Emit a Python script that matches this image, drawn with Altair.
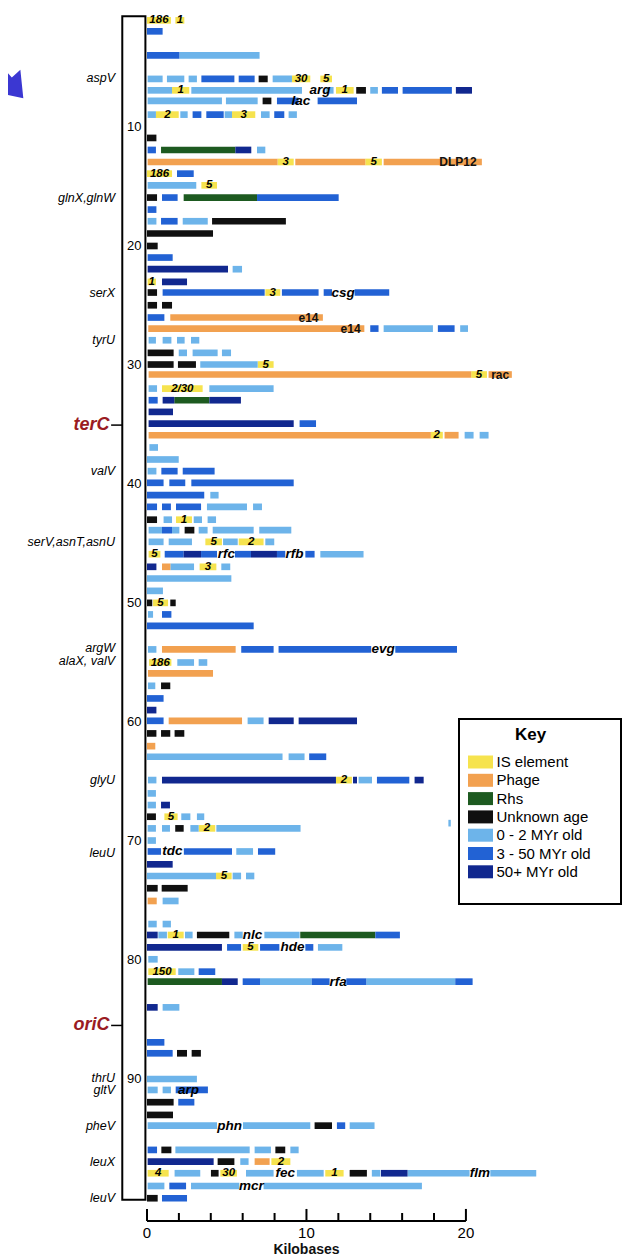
import altair as alt
import pandas as pd

# ---------------- legend categories ----------------
key_labels = ["IS element", "Phage", "Rhs", "Unknown age",
              "0 - 2 MYr old", "3 - 50 MYr old", "50+ MYr old"]
key_colors = ["#f6e34e", "#f2a150", "#1d5a20", "#101010",
              "#6db4ea", "#2262d4", "#11288f"]

# ---------------- segments: (map minute, start kb, end kb) ----------------
is_segments = [  # (minute, start, end, label)
    (1.04, 0.0, 1.5, "186"), (1.04, 1.78, 2.34, "1"),
    (5.96, 9.09, 10.24, "30"), (5.96, 10.87, 11.6, "5"),
    (6.92, 1.57, 2.65, "1"), (6.92, 11.85, 12.96, "1"),
    (8.96, 0.56, 1.99, "2"), (8.96, 5.33, 6.79, "3"),
    (12.94, 8.19, 9.2, "3"), (12.94, 13.69, 14.73, "5"),
    (13.92, 0.0, 1.57, "186"),
    (14.9, 3.41, 4.39, "5"),
    (23.02, 0.04, 0.56, "1"),
    (23.91, 7.42, 8.36, "3"),
    (29.96, 6.94, 7.94, "5"),
    (30.8, 20.33, 21.32, "5"),
    (31.98, 0.94, 3.49, "2/30"),
    (35.9, 17.8, 18.55, "2"),
    (43.0, 1.82, 2.82, "1"),
    (44.86, 3.66, 4.7, "5"), (44.86, 5.75, 7.31, "2"),
    (45.9, 0.1, 0.84, "5"),
    (46.96, 3.3, 4.35, "3"),
    (49.99, 0.38, 1.32, "5"),
    (55.0, 0.13, 1.53, "186"),
    (64.88, 11.85, 12.85, "2"),
    (67.96, 1.09, 1.92, "5"),
    (68.94, 3.24, 4.28, "2"),
    (72.94, 4.33, 5.31, "5"),
    (77.9, 1.3, 2.3, "1"),
    (78.94, 6.0, 6.98, "5"),
    (80.98, 0.08, 1.8, "150"),
    (96.94, 7.8, 8.99, "2"),
    (97.92, 0.04, 1.36, "4"), (97.92, 4.6, 5.64, "30"), (97.92, 11.18, 12.33, "1"),
]

phage_segments = [
    (12.94, 0.04, 8.19), (12.94, 9.3, 13.69), (12.94, 14.84, 21.0),
    (26.01, 1.46, 11.03),
    (26.94, 0.08, 13.63),
    (30.8, 0.1, 20.33), (30.8, 21.42, 22.88),
    (35.9, 0.1, 17.8), (35.9, 18.66, 19.54),
    (46.96, 0.94, 1.48),
    (53.9, 0.94, 5.56),
    (55.92, 0.06, 4.14),
    (59.9, 1.36, 5.96),
    (62.03, 0.0, 0.52),
    (75.04, 0.04, 0.61),
    (96.94, 6.75, 7.69),
]

rhs_segments = [
    (11.93, 0.88, 5.54), (15.93, 2.3, 6.9), (32.96, 1.71, 3.91),
    (77.9, 9.61, 14.32), (81.82, 0.04, 4.7),
]

unknown_segments = [
    (5.96, 7.0, 7.57), (6.92, 13.12, 13.73), (7.81, 7.25, 7.8),
    (10.92, 0.0, 0.59),
    (15.93, 0.0, 0.63),
    (17.92, 4.08, 8.71),
    (18.95, 0.0, 4.14),
    (20.0, 0.0, 0.67),
    (23.91, 0.04, 0.63),
    (24.98, 0.04, 0.63), (24.98, 0.94, 1.57),
    (28.98, 0.04, 1.67),
    (29.96, 0.04, 1.67), (29.96, 1.94, 3.07),
    (43.0, 0.0, 0.63),
    (43.88, 2.36, 2.97),
    (49.99, 0.0, 0.33), (49.99, 1.46, 1.8),
    (56.96, 0.88, 1.46),
    (60.96, 0.0, 0.59), (60.96, 0.88, 1.46), (60.96, 1.73, 2.34),
    (67.96, 0.0, 0.56),
    (68.94, 1.77, 2.3),
    (73.97, 0.0, 0.67), (73.97, 0.92, 2.55),
    (77.9, 3.13, 5.16),
    (87.84, 1.88, 2.51), (87.84, 2.8, 3.38),
    (91.95, 0.0, 1.67),
    (93.02, 0.0, 1.63),
    (93.92, 10.51, 11.6),
    (95.96, 0.9, 1.53), (95.96, 8.05, 8.67),
    (96.94, 4.43, 5.48),
    (97.92, 4.01, 4.49), (97.92, 12.71, 13.79),
    (100.02, 0.0, 0.67),
]

young_segments = [  # 0 - 2 MYr old
    (3.98, 2.03, 7.06),
    (5.96, 0.04, 0.98), (5.96, 1.25, 2.34), (5.96, 2.61, 3.13), (5.96, 7.88, 9.09),
    (6.92, 0.04, 1.57), (6.92, 2.78, 9.72), (6.92, 11.2, 11.7), (6.92, 14.0, 14.48),
    (7.81, 0.04, 4.7), (7.81, 4.95, 6.94),
    (8.96, 0.04, 0.56), (8.96, 2.09, 2.55), (8.96, 4.87, 5.33), (8.96, 7.15, 7.69), (8.96, 8.88, 9.4),
    (11.93, 6.9, 7.42),
    (14.9, 0.04, 3.09),
    (17.92, 0.04, 0.59), (17.92, 2.24, 3.81),
    (21.95, 5.37, 5.96),
    (26.94, 14.84, 17.93), (26.94, 19.64, 20.13),
    (27.92, 0.1, 0.56), (27.92, 0.98, 1.53), (27.92, 1.88, 2.36), (27.92, 2.76, 3.28),
    (28.98, 1.99, 2.51), (28.98, 2.86, 4.43), (28.98, 4.7, 5.27),
    (29.96, 3.34, 6.94),
    (31.98, 0.1, 0.63), (31.98, 3.91, 7.94),
    (35.9, 19.92, 20.48), (35.9, 20.86, 21.42),
    (36.93, 0.15, 0.69),
    (37.94, 0.0, 1.99),
    (38.92, 0.04, 0.59),
    (40.94, 3.97, 4.49),
    (41.92, 3.76, 6.27), (41.92, 6.65, 7.21),
    (43.0, 1.04, 1.57), (43.0, 2.93, 3.45), (43.0, 3.8, 4.33),
    (43.88, 0.1, 0.94), (43.88, 1.57, 2.03), (43.88, 3.24, 3.8), (43.88, 4.12, 6.69), (43.88, 7.04, 9.05),
    (44.86, 0.1, 1.04), (44.86, 1.36, 2.82), (44.86, 4.77, 5.69), (44.86, 7.42, 7.98),
    (45.9, 10.87, 13.58),
    (46.96, 1.48, 2.95), (46.96, 4.66, 5.22),
    (47.94, 0.0, 5.29),
    (48.98, 0.0, 1.0),
    (50.96, 0.06, 0.38),
    (53.9, 0.06, 0.59),
    (55.0, 1.9, 2.95), (55.0, 3.24, 3.78),
    (56.96, 0.06, 0.52),
    (59.9, 6.31, 7.31),
    (62.92, 0.0, 8.5), (62.92, 8.88, 9.88),
    (64.88, 0.06, 0.59), (64.88, 13.27, 14.11),
    (66.0, 0.04, 0.56),
    (66.98, 0.04, 0.56),
    (67.96, 2.15, 2.72), (67.96, 3.13, 3.59),
    (68.94, 0.04, 0.56), (68.94, 0.94, 1.44), (68.94, 2.72, 3.24), (68.94, 4.35, 9.63), (68.5, 18.9, 19.05),
    (69.96, 0.04, 0.56),
    (70.88, 5.6, 6.65),
    (72.94, 0.0, 4.33), (72.94, 5.37, 5.9), (72.94, 6.21, 6.73),
    (75.04, 0.98, 1.98),
    (76.98, 0.08, 0.61), (76.98, 0.98, 1.5),
    (77.9, 0.71, 1.25), (77.9, 2.38, 2.86), (77.9, 5.48, 6.0), (77.9, 7.36, 9.57),
    (78.94, 10.72, 12.25),
    (79.94, 0.08, 0.67),
    (80.98, 1.96, 2.97),
    (81.82, 7.09, 10.33), (81.82, 13.75, 19.33),
    (83.98, 0.98, 2.03),
    (90.0, 0.0, 3.13),
    (90.92, 0.04, 0.67), (90.92, 0.98, 1.5),
    (93.92, 0.04, 4.39), (93.92, 6.02, 10.24), (93.92, 12.71, 14.27),
    (95.96, 1.78, 6.44), (95.96, 6.75, 7.77), (95.96, 8.99, 9.51),
    (96.94, 5.85, 6.37),
    (97.92, 1.73, 3.34), (97.92, 6.21, 7.94), (97.92, 9.4, 11.08), (97.92, 14.1, 14.63),
    (97.92, 16.34, 20.23), (97.92, 21.53, 24.41),
    (98.99, 0.04, 1.09), (98.99, 2.76, 5.79), (98.99, 7.31, 17.24),
]

mid_segments = [  # 3 - 50 MYr old
    (1.96, 0.0, 0.98),
    (3.98, 0.0, 2.03),
    (5.96, 3.41, 5.48), (5.96, 5.75, 6.75),
    (6.92, 14.73, 15.74), (6.92, 16.03, 19.12),
    (7.81, 8.15, 9.5), (7.81, 10.7, 13.17),
    (8.96, 2.86, 3.41), (8.96, 3.72, 4.81), (8.96, 7.98, 8.61),
    (11.93, 0.04, 0.56),
    (13.92, 1.88, 2.93),
    (15.93, 0.94, 1.92), (15.93, 6.9, 12.02),
    (16.94, 0.04, 0.59),
    (17.92, 0.88, 1.92),
    (20.97, 0.04, 1.61),
    (23.91, 0.98, 7.38), (23.91, 8.46, 10.76), (23.91, 11.08, 11.6), (23.91, 13.02, 15.19),
    (26.01, 0.04, 1.09),
    (26.94, 14.0, 14.52), (26.94, 18.24, 19.29),
    (32.96, 0.1, 0.67),
    (34.92, 9.57, 10.6),
    (38.92, 0.9, 1.92), (38.92, 2.24, 4.24),
    (39.9, 0.0, 1.04), (39.9, 1.4, 2.4), (39.9, 2.78, 9.2),
    (40.94, 0.0, 3.59),
    (41.92, 0.0, 0.63), (41.92, 0.94, 1.5), (41.92, 1.82, 3.39),
    (43.88, 0.94, 1.57),
    (45.9, 1.11, 2.3), (45.9, 3.39, 4.39), (45.9, 5.52, 6.52), (45.9, 8.15, 8.67), (45.9, 9.93, 10.51),
    (50.96, 0.94, 1.53),
    (51.92, 0.0, 6.69),
    (53.9, 5.91, 7.94), (53.9, 8.25, 14.06), (53.9, 15.57, 19.44),
    (58.02, 0.0, 1.04),
    (59.9, 0.0, 1.04),
    (62.92, 10.17, 11.24),
    (64.88, 14.42, 16.45),
    (70.88, 0.04, 0.88), (70.88, 2.31, 5.33), (70.88, 6.96, 8.04),
    (77.9, 14.32, 15.86),
    (78.94, 5.02, 5.9), (78.94, 7.09, 8.3), (78.94, 9.93, 10.43),
    (80.98, 3.24, 4.28),
    (81.82, 6.0, 7.09), (81.82, 10.33, 11.45), (81.82, 12.5, 13.75), (81.82, 19.33, 20.42),
    (86.92, 0.0, 1.09),
    (87.84, 0.0, 1.61),
    (90.92, 1.8, 3.82),
    (91.95, 1.96, 2.97),
    (93.92, 11.91, 12.43),
    (95.96, 0.04, 0.63),
    (98.99, 1.4, 2.45),
    (100.02, 0.94, 2.51),
]

old_segments = [  # 50+ MYr old
    (6.92, 19.37, 20.38),
    (11.93, 5.54, 6.54),
    (21.95, 0.04, 5.08),
    (23.02, 0.94, 2.51),
    (32.96, 0.98, 1.71), (32.96, 3.91, 5.89),
    (33.94, 0.1, 1.63),
    (34.92, 0.1, 9.2),
    (45.9, 2.3, 3.39), (45.9, 6.52, 8.15),
    (46.96, 0.0, 0.59),
    (59.0, 0.0, 0.59),
    (59.9, 7.63, 9.2), (59.9, 9.51, 13.17),
    (64.88, 0.94, 11.85), (64.88, 12.92, 13.17), (64.88, 16.78, 17.35),
    (66.98, 0.88, 1.44),
    (71.96, 0.0, 1.61),
    (77.9, 0.0, 0.67),
    (78.94, 0.0, 4.7),
    (81.82, 4.7, 5.69),
    (83.98, 0.0, 0.67),
    (96.94, 0.04, 4.18),
    (97.92, 14.67, 16.34),
]

# ---------------- text annotations ----------------
cluster_labels = [  # (minute, kb centre, name)
    (6.92, 10.85, "arg"), (7.81, 9.65, "lac"), (23.91, 12.3, "csg"),
    (45.9, 4.97, "rfc"), (45.9, 9.25, "rfb"), (53.9, 14.8, "evg"),
    (70.88, 1.59, "tdc"), (77.9, 6.62, "nlc"), (78.94, 9.13, "hde"),
    (81.82, 11.99, "rfa"), (90.92, 2.6, "arp"), (93.92, 5.18, "phn"),
    (97.92, 8.67, "fec"), (97.92, 20.88, "flm"), (98.99, 6.55, "mcr"),
]
phage_labels = [(12.94, 19.5, "DLP12"), (26.01, 10.13, "e14"),
                (26.94, 12.77, "e14"), (30.8, 22.15, "rac")]
gene_labels = [
    (5.9, "aspV"), (15.93, "glnX,glnW"), (23.91, "serX"), (27.92, "tyrU"),
    (38.92, "valV"), (44.86, "serV,asnT,asnU"), (53.75, "argW"),
    (54.85, "alaX, valV"), (64.88, "glyU"), (71.0, "leuU"), (89.9, "thrU"),
    (90.95, "gltV"), (93.92, "pheV"), (96.94, "leuX"), (100.0, "leuV"),
]
origin_labels = [(35.05, "terC"), (85.5, "oriC")]
minute_ticks = [10, 20, 30, 40, 50, 60, 70, 80, 90]
kb_ticks = [0, 2, 4, 6, 8, 10, 12, 14, 16, 18, 20]
kb_tick_labels = [0, 10, 20]

# ---------------- build tables ----------------
seg_rows = []
for kind, segs in zip(key_labels, [is_segments, phage_segments, rhs_segments,
                                   unknown_segments, young_segments,
                                   mid_segments, old_segments]):
    for s in segs:
        seg_rows.append({"row": s[0], "x0": s[1], "x1": s[2], "kind": kind})
seg_df = pd.DataFrame(seg_rows)
is_df = pd.DataFrame(is_segments, columns=["row", "x0", "x1", "label"])
cl_df = pd.DataFrame(cluster_labels, columns=["row", "x", "label"])
ph_df = pd.DataFrame(phage_labels, columns=["row", "x", "label"])
gene_df = pd.DataFrame(gene_labels, columns=["row", "label"])
ori_df = pd.DataFrame(origin_labels, columns=["row", "label"])
mt_df = pd.DataFrame({"m": minute_ticks})
kt_df = pd.DataFrame({"kb": kb_ticks})
kl_df = pd.DataFrame({"kb": kb_tick_labels})
one = pd.DataFrame({"k": [0]})

FONT = "Liberation Sans"
xs = alt.Scale(domain=[0, 29.6], nice=False, zero=False)
ys = alt.Scale(domain=[0, 100], nice=False, zero=False, reverse=True)


def X(f):
    return alt.X(f, type="quantitative", scale=xs, axis=None)


def Y(f):
    return alt.Y(f, type="quantitative", scale=ys, axis=None)


# decorative slide arrow (top-left corner)
arrow = alt.Chart(one).mark_point(
    shape="M-1,-0.2H0.15V-0.62L1,0L0.15,0.62V0.2H-1Z", filled=True,
    fill="#3b37d2", color="#3b37d2", opacity=1, size=3000, angle=48
).encode(x=alt.value(-142), y=alt.value(70))

# chromosome box
box = alt.Chart(one).transform_calculate(
    bx0="-1.55", bx1="-0.1", by0="0.7", by1="100.15"
).mark_rect(fill="white", stroke="black", strokeWidth=2).encode(
    x=X("bx0"), x2=alt.X2("bx1"), y=Y("by0"), y2=alt.Y2("by1"))

minute_text = alt.Chart(mt_df).transform_calculate(tx="-0.35").mark_text(
    align="right", baseline="middle", font=FONT, fontSize=13, color="black"
).encode(x=X("tx"), y=Y("m"), text=alt.Text("m:Q"))

segments = alt.Chart(seg_df).transform_calculate(
    ylo="datum.row - 0.28", yhi="datum.row + 0.28"
).mark_rect().encode(
    x=X("x0"), x2=alt.X2("x1"), y=Y("ylo"), y2=alt.Y2("yhi"),
    color=alt.Color("kind:N",
                    scale=alt.Scale(domain=key_labels, range=key_colors),
                    legend=alt.Legend(
                        title="Key", orient="none", legendX=323.5, legendY=719,
                        titleAnchor="middle", titleFont=FONT, titleFontSize=17,
                        titleFontWeight="bold", titleColor="black", titlePadding=8,
                        labelFont=FONT, labelFontSize=15, labelColor="black",
                        labelOffset=6, labelLimit=200,
                        symbolType="M-1.25,-0.65H1.25V0.65H-1.25Z", symbolSize=400,
                        symbolStrokeWidth=0, symbolOpacity=1, rowPadding=0.3)))

is_text = alt.Chart(is_df).transform_calculate(
    xm="(datum.x0 + datum.x1) / 2"
).mark_text(baseline="middle", font=FONT, fontSize=11.5, fontWeight="bold",
            fontStyle="italic", color="black").encode(
    x=X("xm"), y=Y("row"), text="label:N")

cl_text = alt.Chart(cl_df).mark_text(
    baseline="middle", font=FONT, fontSize=13.5, fontWeight="bold",
    fontStyle="italic", color="black").encode(x=X("x"), y=Y("row"), text="label:N")

ph_text = alt.Chart(ph_df).mark_text(
    baseline="middle", font=FONT, fontSize=12, fontWeight="bold",
    color="#111111").encode(x=X("x"), y=Y("row"), text="label:N")

gene_text = alt.Chart(gene_df).transform_calculate(gx="-2.0").mark_text(
    align="right", baseline="middle", font=FONT, fontSize=12.5,
    fontStyle="italic", color="black").encode(
    x=X("gx"), y=Y("row"), text="label:N")

ori_text = alt.Chart(ori_df).transform_calculate(ox="-2.35").mark_text(
    align="right", baseline="middle", font=FONT, fontSize=18, fontWeight="bold",
    fontStyle="italic", color="#9a1b22").encode(
    x=X("ox"), y=Y("row"), text="label:N")

ori_dash = alt.Chart(ori_df).transform_calculate(
    d0="-2.25", d1="-1.55"
).mark_rule(color="black", strokeWidth=1.5).encode(
    x=X("d0"), x2=alt.X2("d1"), y=Y("row"))

# x axis drawn by hand (ticks point upward)
axis_line = alt.Chart(one).transform_calculate(
    a0="0", a1="20", ay="101.93"
).mark_rule(color="black", strokeWidth=2).encode(
    x=X("a0"), x2=alt.X2("a1"), y=Y("ay"))
axis_ticks = alt.Chart(kt_df).transform_calculate(
    top="datum.kb % 10 == 0 ? 100.92 : 101.26", bot="101.93"
).mark_rule(color="black", strokeWidth=2).encode(
    x=X("kb"), y=Y("top"), y2=alt.Y2("bot"))
axis_labels = alt.Chart(kl_df).transform_calculate(ly="102.95").mark_text(
    baseline="middle", font=FONT, fontSize=15, color="black").encode(
    x=X("kb"), y=Y("ly"), text=alt.Text("kb:Q"))
axis_title = alt.Chart(one).transform_calculate(
    tx="10", ty="104.4", t="'Kilobases'"
).mark_text(
    baseline="middle", font=FONT, fontSize=14, fontWeight="bold", color="#111111"
).encode(x=X("tx"), y=Y("ty"), text="t:N")

key_frame = alt.Chart(one).mark_rect(
    fill="white", stroke="black", strokeWidth=2).encode(
    x=alt.value(312), x2=alt.value(474), y=alt.value(711), y2=alt.value(896))

chart = alt.layer(
    arrow, box, minute_text, key_frame, segments, is_text, cl_text, ph_text,
    gene_text, ori_text, ori_dash, axis_line, axis_ticks, axis_labels, axis_title
).properties(
    width=472, height=1190,
    autosize=alt.AutoSizeParams(type="none"),
    padding={"left": 139, "right": 4, "top": 0, "bottom": 60},
    background="white",
).configure_view(stroke=None)

chart.save("out.html", embed_options={"renderer": "svg", "actions": False})
